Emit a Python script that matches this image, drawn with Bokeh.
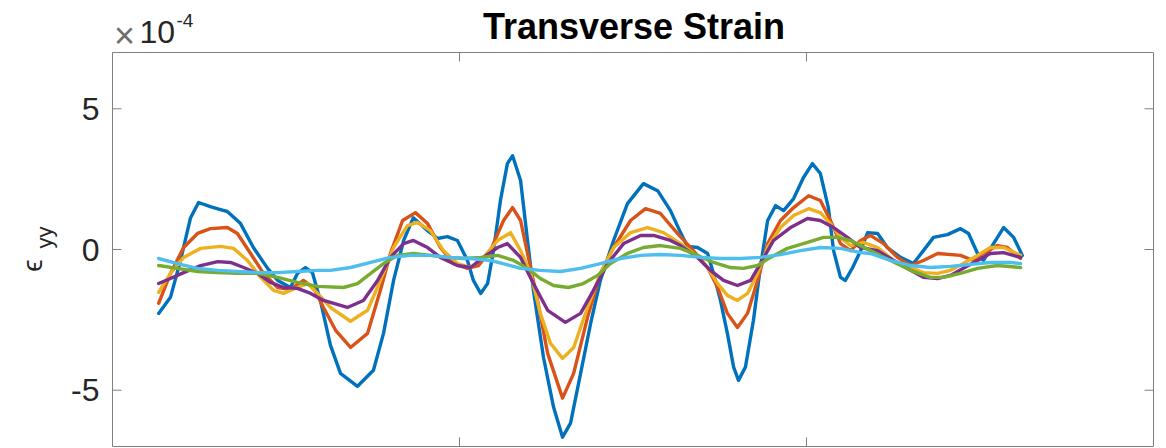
import math
from bokeh.plotting import figure
from bokeh.models import Range1d
from bokeh.core.properties import value
from bokeh.embed import file_html
from bokeh.resources import INLINE

# Transverse strain along the specimen, values in units of 1e-4
x_blue = [0.133, 0.167, 0.196, 0.225, 0.248, 0.282, 0.311, 0.331, 0.369, 0.406, 0.447, 0.476,
          0.513, 0.533, 0.556, 0.576, 0.599, 0.628, 0.657, 0.706, 0.752, 0.781, 0.810, 0.839,
          0.867, 0.908, 0.937, 0.965, 0.994, 1.023, 1.040, 1.061, 1.081, 1.098, 1.118, 1.138,
          1.153, 1.176, 1.196, 1.213, 1.242, 1.271, 1.297, 1.320, 1.349, 1.378, 1.406, 1.444,
          1.484, 1.530, 1.571, 1.608, 1.637, 1.657, 1.686, 1.715, 1.732, 1.752, 1.772, 1.790,
          1.804, 1.824, 1.847, 1.867, 1.888, 1.911, 1.934, 1.963, 1.991, 2.017, 2.040, 2.063,
          2.078, 2.098, 2.112, 2.133, 2.156, 2.176, 2.205, 2.233, 2.271, 2.308, 2.337, 2.366,
          2.406, 2.444, 2.467, 2.493, 2.510, 2.539, 2.568, 2.597, 2.622]
eps_blue = [-2.27, -1.70, -0.39, 1.13, 1.67, 1.52, 1.42, 1.35, 0.92, 0.07, -0.67, -1.10,
            -1.35, -0.85, -0.64, -0.82, -1.81, -3.40, -4.40, -4.86, -4.29, -2.98, -1.10, 0.32,
            1.13, 0.67, 0.39, 0.46, 0.32, -0.39, -1.10, -1.56, -1.21, -0.04, 1.74, 3.05,
            3.33, 2.45, 0.32, -1.45, -3.83, -5.60, -6.67, -6.17, -4.40, -2.62, -1.10, 0.32,
            1.63, 2.34, 2.09, 1.38, 0.60, 0.11, 0.07, -0.14, -0.85, -1.81, -2.98, -4.18,
            -4.65, -4.18, -2.52, -0.64, 1.03, 1.56, 1.38, 1.81, 2.55, 3.05, 2.70, 1.49,
            -0.04, -0.99, -1.10, -0.64, -0.04, 0.60, 0.57, 0.07, -0.28, -0.50, -0.04, 0.43,
            0.53, 0.74, 0.57, -0.14, -0.39, 0.21, 0.78, 0.43, -0.21]

x_orange = [0.133, 0.167, 0.205, 0.245, 0.282, 0.331, 0.360, 0.398, 0.435, 0.476, 0.513, 0.550,
            0.579, 0.608, 0.643, 0.686, 0.735, 0.772, 0.801, 0.836, 0.873, 0.908, 0.945, 0.983,
            1.023, 1.055, 1.089, 1.127, 1.153, 1.176, 1.196, 1.225, 1.254, 1.297, 1.329, 1.369,
            1.406, 1.444, 1.493, 1.536, 1.579, 1.628, 1.674, 1.715, 1.744, 1.772, 1.801, 1.830,
            1.859, 1.888, 1.925, 1.963, 2.006, 2.040, 2.069, 2.098, 2.127, 2.156, 2.184, 2.222,
            2.262, 2.300, 2.337, 2.378, 2.444, 2.481, 2.510, 2.550, 2.579, 2.617]
eps_orange = [-1.91, -0.85, 0.07, 0.57, 0.74, 0.78, 0.57, -0.14, -0.85, -1.35, -1.42, -1.10,
              -1.35, -2.06, -2.87, -3.48, -2.98, -1.45, -0.14, 1.03, 1.31, 0.92, 0.07, -0.50,
              -0.67, -0.57, -0.04, 1.03, 1.49, 1.03, -0.14, -1.81, -3.69, -5.28, -4.40, -2.41,
              -0.85, 0.07, 1.03, 1.45, 1.28, 0.57, -0.04, -0.64, -1.35, -2.27, -2.77, -2.27,
              -1.10, 0.21, 1.03, 1.49, 1.91, 1.74, 1.03, 0.21, -0.04, 0.32, 0.50, 0.21,
              -0.28, -0.57, -0.39, -0.14, -0.21, -0.39, -0.14, 0.14, 0.07, -0.32]

x_yellow = [0.133, 0.167, 0.205, 0.254, 0.311, 0.349, 0.389, 0.427, 0.464, 0.493, 0.533, 0.562,
            0.591, 0.628, 0.686, 0.735, 0.772, 0.810, 0.850, 0.879, 0.916, 0.954, 0.994, 1.032,
            1.069, 1.110, 1.147, 1.176, 1.205, 1.233, 1.262, 1.297, 1.329, 1.369, 1.406, 1.444,
            1.493, 1.542, 1.588, 1.637, 1.674, 1.715, 1.744, 1.772, 1.801, 1.830, 1.859, 1.888,
            1.925, 1.963, 2.006, 2.040, 2.069, 2.098, 2.127, 2.164, 2.205, 2.251, 2.300, 2.337,
            2.378, 2.415, 2.452, 2.493, 2.530, 2.568, 2.617]
eps_yellow = [-1.52, -0.85, -0.28, 0.04, 0.11, 0.04, -0.39, -0.99, -1.45, -1.56, -1.35, -1.21,
              -1.56, -2.06, -2.55, -2.16, -1.10, 0.07, 0.85, 0.96, 0.67, -0.04, -0.50, -0.64,
              -0.28, 0.32, 0.60, -0.04, -0.85, -2.27, -3.33, -3.87, -3.48, -2.06, -0.85, 0.07,
              0.60, 0.78, 0.60, 0.21, -0.14, -0.64, -1.21, -1.63, -1.81, -1.56, -0.85, 0.07,
              0.78, 1.21, 1.45, 1.31, 0.92, 0.43, 0.14, 0.25, 0.07, -0.39, -0.64, -0.82,
              -0.85, -0.74, -0.50, -0.21, 0.07, 0.07, -0.21]

x_purple = [0.133, 0.167, 0.205, 0.254, 0.303, 0.340, 0.378, 0.418, 0.455, 0.493, 0.533, 0.571,
            0.608, 0.677, 0.723, 0.764, 0.801, 0.839, 0.867, 0.908, 0.945, 0.994, 1.032, 1.069,
            1.110, 1.138, 1.176, 1.213, 1.254, 1.305, 1.349, 1.386, 1.427, 1.473, 1.522, 1.559,
            1.608, 1.637, 1.686, 1.723, 1.761, 1.801, 1.839, 1.867, 1.905, 1.954, 2.003, 2.040,
            2.078, 2.118, 2.156, 2.205, 2.251, 2.300, 2.337, 2.378, 2.415, 2.452, 2.493, 2.530,
            2.568, 2.617]
eps_purple = [-1.21, -1.03, -0.82, -0.57, -0.43, -0.46, -0.64, -0.85, -1.17, -1.35, -1.38, -1.56,
              -1.81, -2.06, -1.81, -1.10, -0.28, 0.21, 0.32, 0.07, -0.28, -0.57, -0.64, -0.28,
              0.07, 0.21, -0.28, -1.21, -2.16, -2.59, -2.27, -1.45, -0.50, 0.21, 0.50, 0.50,
              0.32, 0.14, -0.28, -0.74, -1.10, -1.28, -1.10, -0.50, 0.32, 0.78, 1.10, 1.03,
              0.78, 0.43, 0.07, -0.04, -0.39, -0.74, -0.99, -1.03, -0.92, -0.67, -0.39, -0.14,
              -0.11, -0.28]

x_green = [0.133, 0.187, 0.245, 0.303, 0.360, 0.418, 0.476, 0.533, 0.591, 0.666, 0.706, 0.744,
           0.781, 0.821, 0.867, 0.916, 0.965, 1.012, 1.061, 1.110, 1.156, 1.196, 1.233, 1.271,
           1.314, 1.357, 1.398, 1.435, 1.484, 1.530, 1.579, 1.637, 1.686, 1.732, 1.781, 1.818,
           1.859, 1.896, 1.945, 2.003, 2.049, 2.089, 2.127, 2.184, 2.242, 2.300, 2.357, 2.395,
           2.444, 2.493, 2.550, 2.617]
eps_green = [-0.57, -0.67, -0.78, -0.82, -0.85, -0.85, -0.99, -1.17, -1.31, -1.35, -1.21, -0.85,
             -0.50, -0.21, -0.14, -0.21, -0.28, -0.32, -0.28, -0.21, -0.39, -0.67, -1.03, -1.28,
             -1.35, -1.21, -0.92, -0.50, -0.14, 0.07, 0.14, 0.04, -0.21, -0.46, -0.64, -0.67,
             -0.57, -0.28, 0.04, 0.25, 0.43, 0.43, 0.32, -0.04, -0.39, -0.74, -0.99, -0.99,
             -0.85, -0.67, -0.57, -0.64]

x_cyan = [0.133, 0.187, 0.245, 0.303, 0.360, 0.418, 0.476, 0.533, 0.591, 0.628, 0.686, 0.744,
          0.801, 0.859, 0.916, 0.974, 1.032, 1.089, 1.147, 1.176, 1.233, 1.291, 1.349, 1.406,
          1.464, 1.522, 1.579, 1.637, 1.695, 1.752, 1.810, 1.867, 1.925, 1.983, 2.040, 2.098,
          2.156, 2.184, 2.242, 2.300, 2.357, 2.415, 2.473, 2.530, 2.588, 2.617]
eps_cyan = [-0.32, -0.50, -0.67, -0.74, -0.78, -0.82, -0.82, -0.78, -0.74, -0.74, -0.64, -0.46,
            -0.28, -0.21, -0.21, -0.28, -0.32, -0.39, -0.57, -0.67, -0.74, -0.78, -0.67, -0.50,
            -0.32, -0.21, -0.18, -0.21, -0.28, -0.32, -0.32, -0.28, -0.18, -0.04, 0.07, 0.04,
            -0.11, -0.14, -0.39, -0.57, -0.64, -0.60, -0.53, -0.46, -0.46, -0.50]

x_limits = [0, 3]
y_limits = [-7, 7]
x_ticks = [1, 2]
y_ticks = [-5, 0, 5]
y_tick_labels = ["-5", "0", "5"]
title_text = "Transverse Strain"

series = [
    (x_blue, eps_blue, "#0072BD"),
    (x_orange, eps_orange, "#D95319"),
    (x_yellow, eps_yellow, "#EDB120"),
    (x_purple, eps_purple, "#7E2F8E"),
    (x_green, eps_green, "#77AC30"),
    (x_cyan, eps_cyan, "#4DBEEE"),
]

FONT = value("Liberation Sans")
AXIS_GRAY = "#808080"
TEXT_DARK = "#262626"

# Canvas and axes-box geometry in pixels
W, H = 1166, 448
BOX_L, BOX_R, BOX_T, BOX_B = 112, 1153, 52, 446
TICK_PX = 9

sx = (BOX_R - BOX_L) / (x_limits[1] - x_limits[0])   # px per x unit
sy = (BOX_B - BOX_T) / (y_limits[1] - y_limits[0])   # px per y unit


def X(px):
    return x_limits[0] + (px - BOX_L) / sx


def Y(py):
    return y_limits[1] - (py - BOX_T) / sy


p = figure(width=W, height=H,
           x_range=Range1d(X(0), X(W)), y_range=Range1d(Y(H), Y(0)),
           output_backend="svg", toolbar_location=None,
           x_axis_location=None, y_axis_location=None,
           min_border=0, min_border_left=0, min_border_right=0,
           min_border_top=0, min_border_bottom=0)
p.outline_line_color = None
p.background_fill_color = "white"
p.border_fill_color = "white"
for g in p.grid:
    g.visible = False

# Data curves
for xs, ys, color in series:
    p.line(xs, ys, line_color=color, line_width=3.4, line_join="round", line_cap="round")

# Axes box
p.quad(left=x_limits[0], right=x_limits[1], bottom=y_limits[0], top=y_limits[1],
       fill_color=None, line_color=AXIS_GRAY, line_width=1)

# Inward tick marks on all four sides
tx = TICK_PX / sx
ty = TICK_PX / sy
p.segment(x0=[x_limits[0]] * len(y_ticks), x1=[x_limits[0] + tx] * len(y_ticks),
          y0=y_ticks, y1=y_ticks, line_color=AXIS_GRAY, line_width=1)
p.segment(x0=[x_limits[1]] * len(y_ticks), x1=[x_limits[1] - tx] * len(y_ticks),
          y0=y_ticks, y1=y_ticks, line_color=AXIS_GRAY, line_width=1)
p.segment(x0=x_ticks, x1=x_ticks, y0=[y_limits[0]] * len(x_ticks),
          y1=[y_limits[0] + ty] * len(x_ticks), line_color=AXIS_GRAY, line_width=1)
p.segment(x0=x_ticks, x1=x_ticks, y0=[y_limits[1]] * len(x_ticks),
          y1=[y_limits[1] - ty] * len(x_ticks), line_color=AXIS_GRAY, line_width=1)

# Y tick labels
p.text(x=[X(BOX_L - 13)] * len(y_ticks), y=y_ticks, text=y_tick_labels,
       text_font=FONT, text_font_size="32px", text_color=TEXT_DARK,
       text_align="right", text_baseline="middle")

# Title
p.text(x=[X((BOX_L + BOX_R) / 2 + 1)], y=[Y(26)], text=[title_text],
       text_font=FONT, text_font_size="36px", text_font_style="bold",
       text_color="black", text_align="center", text_baseline="alphabetic")

# Exponent marker of the y axis
p.text(x=[X(124)], y=[Y(35)], text=["\u00d7"], text_font=FONT, text_font_size="36px",
       text_color="#6e6e6e", text_align="center", text_baseline="middle")
p.text(x=[X(139)], y=[Y(31)], text=["10"], text_font=FONT, text_font_size="32px",
       text_color=TEXT_DARK, text_align="left", text_baseline="alphabetic")
p.text(x=[X(176)], y=[Y(20)], text=["-4"], text_font=FONT, text_font_size="19px",
       text_color=TEXT_DARK, text_align="left", text_baseline="alphabetic")

# Y axis label: epsilon with a "yy" subscript, read bottom to top
p.text(x=[X(32)], y=[Y(265)], text=["\u03f5"], angle=math.pi / 2,
       text_font=FONT, text_font_size="28px", text_color=TEXT_DARK,
       text_align="center", text_baseline="middle")
p.text(x=[X(44)], y=[Y(237)], text=["yy"], angle=math.pi / 2,
       text_font=FONT, text_font_size="22px", text_color=TEXT_DARK,
       text_align="center", text_baseline="middle")

open("out.html", "w").write(file_html(p, INLINE))
